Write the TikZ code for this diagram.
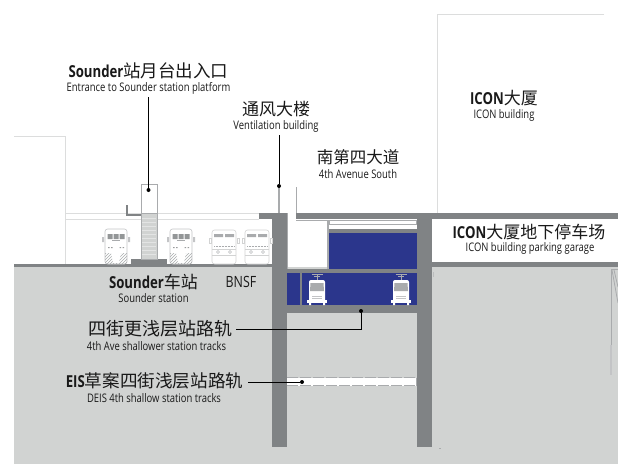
\documentclass[tikz,border=0pt]{standalone}
\usepackage{fontspec}
\setmainfont{Open Sans}[FakeStretch=0.8]
\newfontfamily\cjk{Noto Sans CJK SC}
\definecolor{ground}{HTML}{D1D3D2}
\definecolor{wall}{HTML}{808385}
\definecolor{navy}{HTML}{2B368C}
\definecolor{pale}{HTML}{DCDDDD}
\definecolor{midg}{HTML}{A9ABAD}
\newcommand{\zh}[2][17]{{\cjk\mdseries\fontsize{#1}{18}\selectfont #2}}
\tikzset{
  x=1pt,y=-1pt,
  title/.style={inner sep=0pt,font=\fontsize{16.5}{18}\selectfont\bfseries,text=black!90},
  titleplain/.style={inner sep=0pt,font=\fontsize{15.5}{17}\selectfont,text=black!90},
  sub/.style={inner sep=0pt,font=\fontsize{11.8}{13}\selectfont,text=black!90},
  leader/.style={draw=black,line width=1pt},
  leaderdot/.style={fill=black,circle,inner sep=0pt,minimum size=4pt},
  thinline/.style={draw=pale,line width=1pt},
  busa/.pic={
    \draw[midg!70,line width=.6pt,fill=white,rounded corners=2.5pt] (-11,-35) rectangle (11,0);
    \fill[midg!70] (-14,-27) rectangle (-12,-22) (12,-27) rectangle (14,-22);
    \fill[wall!85] (-8.5,-30) rectangle (-3.5,-25) (-2.5,-30) rectangle (2.5,-25) (3.5,-30) rectangle (8.5,-25);
    \draw[midg,line width=.5pt] (-4,-24) -- (4,-24);
    \fill[wall!80] (-8,-17) rectangle (-6.5,-16) (-5,-17) rectangle (-3.5,-16) (3.5,-17) rectangle (5,-16) (6.5,-17) rectangle (8,-16);
    \begin{scope}
      \clip (-11,-11) -- (-5,-11) -- (-3,-1) -- (3,-1) -- (5,-11) -- (11,-11) -- (11,0) -- (-11,0) -- cycle;
      \foreach \s in {-24,-21,...,12}{\draw[midg,line width=.6pt] (\s,0) -- (\s+12,-12);}
    \end{scope}
  },
  busb/.pic={
    \draw[pale!80!midg,line width=.6pt,fill=white,rounded corners=2.5pt] (-12,-34) rectangle (12,0);
    \draw[pale!80!midg,line width=.6pt] (-15,-26) rectangle (-13,-21) (13,-26) rectangle (15,-21);
    \fill[midg] (-10,-30) rectangle (-1,-27) (1,-30) rectangle (10,-27);
    \draw[midg,line width=.5pt,densely dotted] (-10,-17.5) -- (10,-17.5);
    \draw[pale!80!midg,line width=.5pt] (-12,-15) -- (12,-15) (-12,-9) -- (12,-9);
    \draw[midg!80,line width=.4pt] (-6,-12) circle (1.5) (6,-12) circle (1.5);
  },
  tram/.pic={
    \draw[midg,line width=.7pt] (-5.5,-31) -- (5.5,-31);
    \draw[midg,line width=.7pt] (-3,-29) -- (3,-29) (0,-31) -- (0,-25);
    \fill[white,rounded corners=2pt] (-8,-25) rectangle (8,-3);
    \fill[midg] (-6.5,-22) -- (6.5,-22) -- (7,-14) -- (-7,-14) -- cycle;
    \draw[midg!70,line width=.5pt] (-5,-9) -- (5,-9) (-5,-7) -- (5,-7);
    \fill[white] (-10,-5) rectangle (10,-2);
    \fill[white] (-8,-2) rectangle (-6,0) (6,-2) rectangle (8,0);
  }
}
\begin{document}
\begin{tikzpicture}
\useasboundingbox (0,0) rectangle (618,464);
% ground
\fill[ground] (14,267) rectangle (618,464);
\fill[wall] (14,264) rectangle (272,267);
% left building outline
\draw[thinline] (14,136.5) -- (65.5,136.5) -- (65.5,264);
% platform slab
\draw[thinline] (65.5,213.5) -- (259,213.5) (65.5,219) -- (259,219);
% ICON building
\draw[thinline] (604,14) -- (437.5,14) -- (437.5,213);
% garage
\fill[wall] (296,213) rectangle (618,219);
\fill[wall] (432,262) rectangle (618,267);
% station box
\fill[navy] (287,273) rectangle (417,305);
\fill[navy] (329,233) rectangle (417,269);
\fill[wall] (328,229) rectangle (417,233);
\fill[wall] (287,269) rectangle (417,273);
\fill[wall] (287,305) rectangle (417,313);
\fill[wall] (300,273) rectangle (302,305);
\fill[midg] (327,220) rectangle (329,269);
\draw[midg,line width=.8pt] (287,213) -- (287,269);
\draw[midg,line width=.8pt] (296,220) -- (328,220);
\draw[midg,line width=.8pt] (329,220.5) -- (416,220.5) -- (416,224.5) -- (329,224.5) -- cycle;
% walls
\fill[wall] (272,213) rectangle (287,447);
\fill[wall] (417,213) rectangle (432,447);
\fill[wall] (259,213) rectangle (287,219);
\draw[midg,line width=1.5pt] (279,186) -- (279,213);
\draw[midg,line width=1.5pt] (296.5,187) -- (296.5,213);
% right side marks
\draw[midg,line width=.8pt] (611.5,269) -- (611.5,345);
\draw[midg!70,line width=2pt] (610.5,345) -- (610.5,375);
\draw[midg,line width=.8pt] (612,269.5) -- (618,269.5) (612,270) -- (618,303) (614,270) -- (618,287);
\draw[midg!80,line width=.8pt] (433,272) -- (433,277);
\draw[midg,line width=.8pt] (439,448.5) -- (441,448.5);
% deis strip
\fill[white] (287,377.5) rectangle (416,385.5);
\draw[midg,line width=.9pt,dash pattern=on 11pt off 2pt] (287,377.5) -- (416,377.5);
\draw[midg,line width=.9pt,dash pattern=on 11pt off 2pt] (287,385.5) -- (416,385.5);
\draw[midg,line width=.9pt] (416,377.5) -- (416,385.5);
% stair tower
\fill[wall] (126,205) rectangle (128,216);
\fill[wall] (126,214) rectangle (141,216);
\fill[wall] (131,259) rectangle (167,264);
\fill[white] (141,184) rectangle (157,259);
\fill[ground] (141,214) rectangle (157,259);
\foreach \y in {218,222,...,256}{\draw[ground!60,line width=.8pt] (142,\y) -- (156,\y);}
\draw[midg,line width=1pt] (141,184) rectangle (157,259);
\draw[midg,line width=1pt] (141,213.5) -- (157,213.5);
% buses
\pic at (116,264) {busa};
\pic at (181,264) {busa};
\pic at (224,264) {busb};
\pic at (257,264) {busb};
% trams
\pic at (317,305) {tram};
\pic at (401,305) {tram};
% labels
\node[title] (entrance) at (148.5,71) {Sounder\zh[17.5]{站月台出入口}};
\node[sub] (entrancesub) at (148.5,88) {Entrance to Sounder station platform};
\node[titleplain] (vent) at (276,109.5) {\zh{通风大楼}};
\node[sub] (ventsub) at (276,126) {Ventilation building};
\node[titleplain] (ave) at (358,157) {\zh[16.5]{南第四大道}};
\node[sub] (avesub) at (358,174) {4th Avenue South};
\node[title] (icon) at (504,98) {ICON\zh{大厦}};
\node[sub] (iconsub) at (504,115) {ICON building};
\node[title] (garage) at (529,232) {ICON\zh{大厦地下停车场}};
\node[sub] (garagesub) at (530,248) {ICON building parking garage};
\node[title] (sounder) at (153.5,282) {Sounder\zh{车站}};
\node[sub] (soundersub) at (153.5,298) {Sounder station};
\node[titleplain] (bnsf) at (241,282) {BNSF};
\node[titleplain] (shallow) at (160,329) {\zh[18]{四街更浅层站路轨}};
\node[sub] (shallowsub) at (156.5,346) {4th Ave shallower station tracks};
\node[title] (deis) at (154.5,381) {EIS\zh[17.6]{草案四街浅层站路轨}};
\node[sub] (deissub) at (154,398) {DEIS 4th shallow station tracks};
% leaders
\node[leaderdot] (d1) at (148.5,190) {};
\node[leaderdot] (d2) at (279,186) {};
\node[leaderdot] (d3) at (361,311) {};
\node[leaderdot] (d4) at (302,382) {};
\draw[leader] (entrancesub.south -| d1) ++(0,3) -- (d1);
\draw[leader] (ventsub.south -| d2) ++(0,3) -- (d2);
\draw[leader] (shallow.east) ++(4,0) -- (shallow.east -| d3) -- (d3);
\draw[leader] (deis.east) ++(5,1) -- (d4);
\end{tikzpicture}
\end{document}
